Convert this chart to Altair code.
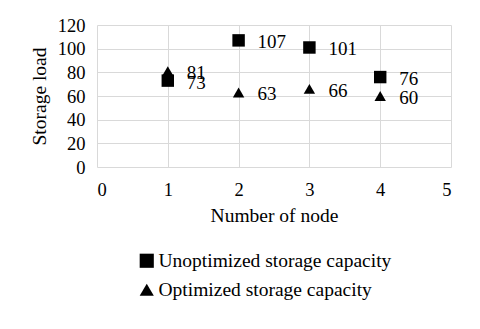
import altair as alt
import pandas as pd

nodes = [1, 2, 3, 4]
unoptimized = [73, 107, 101, 76]
optimized = [81, 63, 66, 60]
series_names = ["Unoptimized storage capacity", "Optimized storage capacity"]

rows = []
for n, v in zip(nodes, unoptimized):
    rows.append({"node": n, "load": v, "series": series_names[0]})
for n, v in zip(nodes, optimized):
    rows.append({"node": n, "load": v, "series": series_names[1]})
df = pd.DataFrame(rows)

FONT = "Liberation Serif, Times New Roman, serif"

x = alt.X("node:Q", title="Number of node",
          scale=alt.Scale(domain=[0, 5], nice=False),
          axis=alt.Axis(values=[0, 1, 2, 3, 4, 5], format="d", tickSize=0,
                        labelPadding=13, titlePadding=8, domain=False,
                        labelFont=FONT, labelFontSize=18.5, labelColor="black",
                        titleFont=FONT, titleFontSize=19.5, titleColor="black",
                        titleFontWeight="normal", gridColor="#d9d9d9"))
y = alt.Y("load:Q", title="Storage load",
          scale=alt.Scale(domain=[0, 120], nice=False),
          axis=alt.Axis(values=[0, 20, 40, 60, 80, 100, 120], tickSize=0,
                        labelPadding=12, titlePadding=8, domain=False,
                        labelFont=FONT, labelFontSize=18.5, labelColor="black",
                        titleFont=FONT, titleFontSize=19.5, titleColor="black",
                        titleFontWeight="normal", gridColor="#d9d9d9"))

points = alt.Chart(df).mark_point(filled=True, opacity=1, color="black").encode(
    x=x, y=y,
    shape=alt.Shape("series:N",
                    scale=alt.Scale(domain=series_names, range=["square", "triangle-up"]),
                    legend=alt.Legend(title=None, orient="none", legendX=40, legendY=226,
                                      labelFont=FONT, labelFontSize=19.5, labelColor="black",
                                      labelLimit=400,
                                      symbolSize=200, symbolFillColor="black",
                                      symbolStrokeColor="black",
                                      symbolStrokeWidth=0, rowPadding=8, labelOffset=2)),
    size=alt.condition(alt.datum.series == series_names[0], alt.value(155), alt.value(130)),
)

labels = alt.Chart(df).mark_text(align="left", baseline="middle", dx=19, dy=2,
                                 font=FONT, fontSize=19, color="black").encode(
    x=x, y=y, text="load:Q")

chart = alt.layer(points, labels).properties(
    width=354, height=142,
    autosize=alt.AutoSizeParams(type="none"),
    padding={"left": 89, "top": 17, "right": 21, "bottom": 154},
    background="white",
).configure_view(stroke=None)

chart.save("out.html", embed_options={"renderer": "svg", "actions": False})
